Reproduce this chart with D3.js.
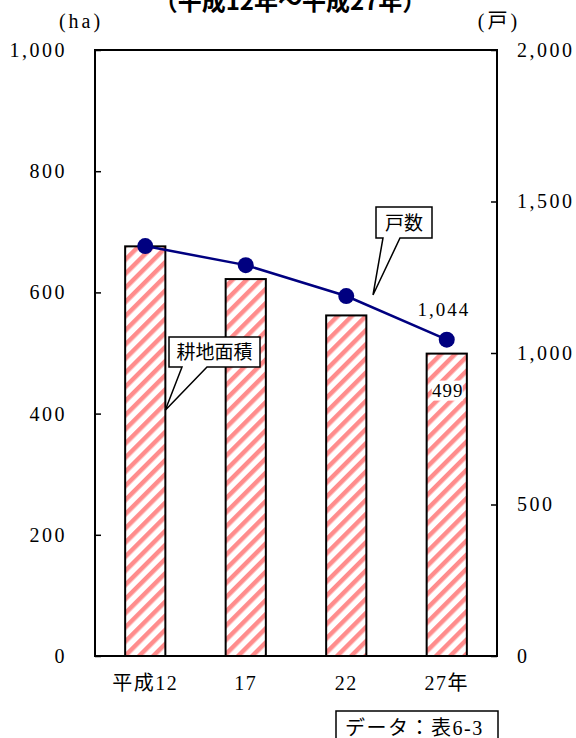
<!DOCTYPE html>
<html>
<head>
<meta charset="utf-8">
<script src="https://cdn.jsdelivr.net/npm/d3@7"></script>
<style>
body { margin: 0; background: #fff; }
svg text { font-family: "Liberation Serif", "Noto Sans CJK JP", serif; }
</style>
</head>
<body>
<script>
var years = ["平成12", "17", "22", "27年"];
var area = [676, 622, 562, 499];          // 耕地面積 (ha)
var households = [1353, 1290, 1188, 1044]; // 戸数
var leftTicks = [0, 200, 400, 600, 800, 1000];
var rightTicks = [0, 500, 1000, 1500, 2000];

var W = 576, H = 738;
var m = {left: 95, right: 79, top: 50, bottom: 82};

var svg = d3.select("body").append("svg")
  .attr("width", W).attr("height", H);

var defs = svg.append("defs");
var pat = defs.append("pattern")
  .attr("id", "hatch")
  .attr("patternUnits", "userSpaceOnUse")
  .attr("width", 10).attr("height", 10)
  .attr("patternTransform", "rotate(45)");
pat.append("rect").attr("width", 10).attr("height", 10).attr("fill", "#fff");
pat.append("rect").attr("width", 4.5).attr("height", 10).attr("fill", "#ff8c8c");

var x = d3.scaleBand().domain(years)
  .range([m.left, W - m.right]).paddingInner(0.6).paddingOuter(0.3);
var yL = d3.scaleLinear().domain([0, 1000]).range([H - m.bottom, m.top]);
var yR = d3.scaleLinear().domain([0, 2000]).range([H - m.bottom, m.top]);

// title (cut at top)
svg.append("text")
  .attr("x", 290).attr("y", 10)
  .attr("text-anchor", "middle")
  .attr("font-size", 24).attr("font-weight", "bold")
  .style("font-family", "'Noto Sans CJK JP', sans-serif")
  .text("（平成12年～平成27年）");

// bars
svg.selectAll(".bar").data(area).enter().append("rect")
  .attr("class", "bar")
  .attr("x", function(d, i) { return x(years[i]); })
  .attr("width", x.bandwidth())
  .attr("y", function(d) { return yL(d); })
  .attr("height", function(d) { return yL(0) - yL(d); })
  .attr("fill", "url(#hatch)")
  .attr("stroke", "#000").attr("stroke-width", 2);

// axes
var axL = d3.axisLeft(yL).tickValues(leftTicks).tickSizeInner(-6).tickSizeOuter(0)
  .tickPadding(28).tickFormat(d3.format(","));
var gL = svg.append("g").attr("transform", "translate(" + m.left + ",0)").call(axL);
var axR = d3.axisRight(yR).tickValues(rightTicks).tickSizeInner(-6).tickSizeOuter(0)
  .tickPadding(20).tickFormat(d3.format(","));
var gR = svg.append("g").attr("transform", "translate(" + (W - m.right) + ",0)").call(axR);
[gL, gR].forEach(function(g) {
  g.select(".domain").remove();
  g.selectAll("line").attr("stroke", "#000").attr("stroke-width", 1.5);
  g.selectAll("text").attr("font-size", 20).attr("fill", "#000")
    .attr("letter-spacing", 2.5)
    .style("font-family", "'Liberation Serif', serif");
});

// frame
svg.append("rect")
  .attr("x", m.left).attr("y", m.top)
  .attr("width", W - m.left - m.right).attr("height", H - m.top - m.bottom)
  .attr("fill", "none").attr("stroke", "#000").attr("stroke-width", 2);

// category labels
svg.selectAll(".xl").data(years).enter().append("text")
  .attr("x", function(d) { return x(d) + x.bandwidth() / 2; })
  .attr("y", H - m.bottom + 34)
  .attr("text-anchor", "middle").attr("font-size", 20)
  .attr("letter-spacing", 1.5)
  .text(function(d) { return d; });

// unit labels
svg.append("text").attr("x", 81).attr("y", 28).attr("text-anchor", "middle")
  .attr("font-size", 20).attr("letter-spacing", 3).text("(ha)");
svg.append("text").attr("x", 499).attr("y", 28).attr("text-anchor", "middle")
  .attr("font-size", 20).attr("letter-spacing", 3).text("(戸)");

// line
var cx = function(d, i) { return x(years[i]) + x.bandwidth() / 2; };
svg.append("path").datum(households)
  .attr("d", d3.line().x(cx).y(function(d) { return yR(d); }))
  .attr("fill", "none").attr("stroke", "#000080").attr("stroke-width", 2.5);
svg.selectAll(".pt").data(households).enter().append("circle")
  .attr("cx", cx).attr("cy", function(d) { return yR(d); })
  .attr("r", 8).attr("fill", "#000080");

// value labels
var last = households.length - 1;
svg.append("text").attr("x", cx(0, last) - 3).attr("y", yR(households[last]) - 24)
  .attr("text-anchor", "middle").attr("font-size", 19).attr("letter-spacing", 2)
  .text(d3.format(",")(households[last]));
svg.append("rect").attr("x", cx(0, last) - 15).attr("y", yL(area[last]) + 27)
  .attr("width", 31).attr("height", 20).attr("fill", "#fff");
svg.append("text").attr("x", cx(0, last) + 1).attr("y", yL(area[last]) + 43)
  .attr("text-anchor", "middle").attr("font-size", 19).attr("letter-spacing", 1)
  .text(area[last]);

// callouts
function callout(bx, by, bw, bh, p1, p2, tip, label) {
  var g = svg.append("g");
  g.append("path")
    .attr("d", "M" + bx + "," + by + "H" + (bx + bw) + "V" + (by + bh) + "H" + p2 +
      "L" + tip[0] + "," + tip[1] + "L" + p1 + "," + (by + bh) + "H" + bx + "Z")
    .attr("fill", "#fff").attr("stroke", "#000").attr("stroke-width", 1.5);
  g.append("text").attr("x", bx + bw / 2).attr("y", by + bh / 2 + 7)
    .attr("text-anchor", "middle").attr("font-size", 19)
    .style("font-family", "'Noto Sans CJK JP', sans-serif")
    .text(label);
}
callout(169, 337, 91, 30, 182, 207, [cx(0, 0) + 20, yL(area[0] * 0.6)], "耕地面積");
callout(376, 207, 56, 31, 383, 400, [373, 295], "戸数");

// source box
svg.append("rect").attr("x", 336).attr("y", 711).attr("width", 162).attr("height", 40)
  .attr("fill", "#fff").attr("stroke", "#000").attr("stroke-width", 1.5);
svg.append("text").attr("x", 345).attr("y", 735).attr("font-size", 20)
  .attr("letter-spacing", 1.5)
  .text("データ：表6-3");
</script>
</body>
</html>
